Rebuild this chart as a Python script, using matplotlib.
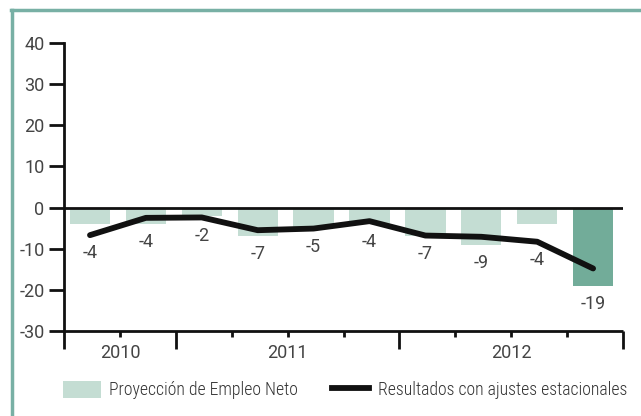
import numpy as np
import matplotlib
matplotlib.use("Agg")
import matplotlib.pyplot as plt
from matplotlib.lines import Line2D
from matplotlib.patches import Patch

# Data
proyeccion = [-4, -4, -2, -7, -5, -4, -7, -9, -4, -19]
ajustados = [-6.7, -2.5, -2.4, -5.5, -5.1, -3.3, -6.8, -7.1, -8.3, -14.8]
anios = ["2010", "2011", "2012"]
quarters_per_year = [2, 4, 4]
yticks = [40, 30, 20, 10, 0, -10, -20, -30]

num_font = ["Roboto", "DejaVu Sans"]
leg_font = ["Roboto Condensed", "Liberation Sans", "DejaVu Sans"]
plt.rcParams["font.family"] = num_font

light = "#c4ddd3"
dark = "#72ac99"
frame = "#78b0a5"
txt = "#444444"

fig = plt.figure(figsize=(6.41, 4.16), dpi=100)
ax = fig.add_axes([64 / 641, 85 / 416, 559 / 641, 288 / 416])

x = np.arange(len(proyeccion))
colors = [light] * (len(proyeccion) - 1) + [dark]
ax.bar(x, proyeccion, width=0.72, color=colors, zorder=1)
ax.plot(x, ajustados, color="#111111", lw=4.2, solid_capstyle="round", zorder=3)

# value labels under the lower of bar / line
for xi, v, a in zip(x, proyeccion, ajustados):
    ax.text(xi, min(v, a) - 4.4, f"{v}", ha="center", va="center",
            fontsize=13, color=txt)

left = -0.465
ax.set_xlim(left, left + len(proyeccion))
ax.set_ylim(-30, 40)
ax.axhline(0, color="#111111", lw=2, zorder=2)

for s in ["top", "right", "bottom"]:
    ax.spines[s].set_visible(False)
ax.spines["left"].set_linewidth(2)
ax.spines["left"].set_color("#111111")

ax.set_yticks(yticks)
ax.set_yticklabels([str(t) for t in yticks], fontsize=13, color=txt)
ax.tick_params(axis="y", length=11, width=2, color="#111111", pad=3)

# bottom axis: minor ticks every quarter, long ticks at year boundaries
ax.set_xticks([])
bounds = np.concatenate([[0], np.cumsum(quarters_per_year)])
tr = ax.get_xaxis_transform()
ax.plot([left, left + len(proyeccion)], [0, 0], transform=tr, color="#111111",
        lw=2, clip_on=False, solid_capstyle="butt")
for k in range(len(proyeccion) + 1):
    ln = 18 if k in bounds else 6
    ax.plot([left + k, left + k], [0, -ln / 288], transform=tr, color="#111111",
            lw=2, clip_on=False, solid_capstyle="butt")
for i, yr in enumerate(anios):
    mid = left + (bounds[i] + bounds[i + 1]) / 2
    ax.text(mid, -22 / 288, yr, transform=tr, ha="center", va="center",
            fontsize=13, color=txt)

# legend
handles = [Patch(facecolor=light, edgecolor="none"),
           Line2D([0], [0], color="#111111", lw=4.2)]
labels = ["Proyección de Empleo Neto", "Resultados con ajustes estacionales"]
fig.legend(handles, labels, loc="center", bbox_to_anchor=(345.5 / 641, 26 / 416),
           ncol=2, frameon=False, labelcolor="#333333",
           prop={"family": leg_font, "size": 12.8, "weight": "light"},
           handlelength=2.1, handleheight=1.1, columnspacing=1.9, handletextpad=0.5)

# decorative frame
fig.add_artist(Line2D([11.5 / 641, 11.5 / 641], [0, 406.5 / 416], color=frame, lw=2.5))
fig.add_artist(Line2D([10.5 / 641, 1], [406.5 / 416, 406.5 / 416], color=frame, lw=2.5))

fig.savefig("out.png", dpi=100)
